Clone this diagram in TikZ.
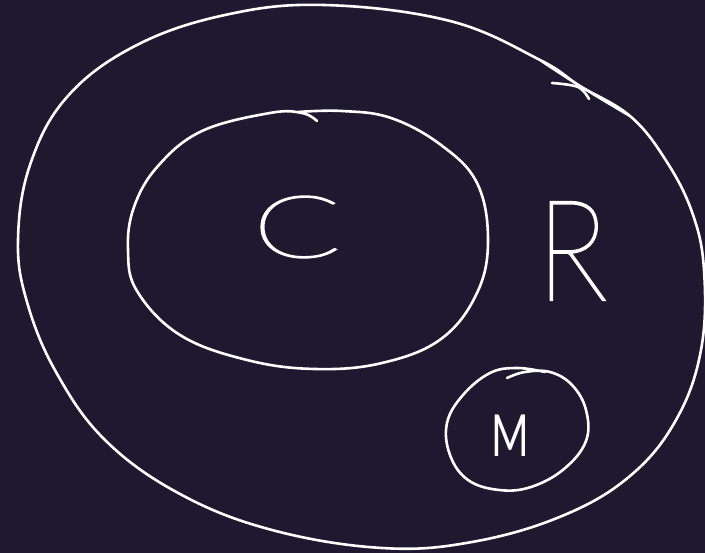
\documentclass[tikz,border=0pt]{standalone}
\usepackage{fontspec}
\IfFontExistsTF{Lato Hairline}{%
  \newfontfamily\rfont[FakeBold=1.6]{Lato Hairline}%
  \newfontfamily\cfont[FakeBold=2.0]{Lato Hairline}}{%
  \newfontfamily\rfont{Lato}\newfontfamily\cfont{Lato}}
\newfontfamily\mfont{Lato}
\definecolor{bg}{RGB}{30,25,46}
\tikzset{
  sketch/.style={draw=white, line width=2.6pt, line cap=round, line join=round},
  letter/.style={text=white, inner sep=0pt, anchor=center}
}
\begin{document}
\begin{tikzpicture}[x=1pt,y=-1pt]
\fill[bg] (0,0) rectangle (705,553);
\useasboundingbox (0,0) rectangle (705,553);
% outer region R
\draw[sketch] plot[smooth, tension=0.65] coordinates {
 (540,60) (580,86) (630,116) (665,159) (692,212) (704,270) (701,350) (676,420)
 (630,476) (562,516) (472,542) (382,548) (272,530) (180,494) (105,440) (56,372)
 (27,302) (18,240) (30,165) (67,97) (135,46) (225,15) (324,5) (450,21) (540,60)
 (580,86) (630,116)};
\draw[sketch] plot[smooth, tension=0.6] coordinates {(552,83) (578,87) (589,99)};
% inner region C
\draw[sketch] plot[smooth, tension=0.65] coordinates {
 (317,121) (302,113) (270,113) (202,131) (158,166) (134,207) (128,250) (137,291)
 (180,335) (247,360) (315,369) (382,363) (441,339) (477,293) (488,240) (477,183)
 (441,145) (391,118) (342,111) (298,112)};
% small region M
\draw[sketch] plot[smooth, tension=0.65] coordinates {
 (507,378) (525,372) (550,372) (572,385) (586,410) (586,441) (564,469) (531,487)
 (499,490) (468,480) (450,455) (447,423) (463,395) (490,373) (517,368) (545,372)};
\node[letter, font=\cfont\fontsize{86}{86}\selectfont, xscale=1.5] (c) at (297,227) {C};
\node[letter, font=\rfont\fontsize{140}{140}\selectfont, xscale=0.85] (r) at (572,251) {R};
\node[letter, font=\mfont\fontsize{58}{58}\selectfont, xscale=0.7] (m) at (510,436) {M};
\end{tikzpicture}
\end{document}
